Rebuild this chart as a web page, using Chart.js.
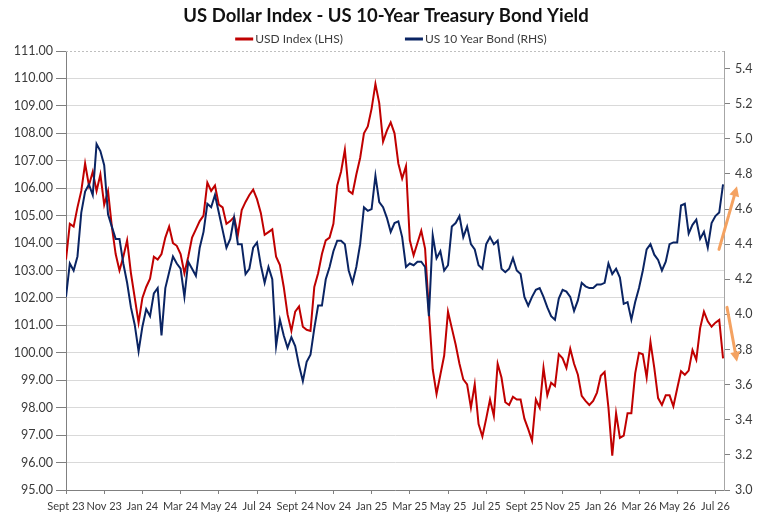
<!DOCTYPE html>
<html><head><meta charset="utf-8">
<script src="https://cdn.jsdelivr.net/npm/chart.js@4.4.1/dist/chart.umd.min.js"></script>
<style>html,body{margin:0;padding:0;background:#fff;}#wrap{width:772px;height:526px;position:relative;}</style>
</head><body><div id="wrap"><canvas id="c"></canvas></div>
<script>
// Two-month tick labels (x axis unit = months since Sept 23)
const monthLabels = ['Sept 23','Nov 23','Jan 24','Mar 24','May 24','Jul 24','Sept 24','Nov 24','Jan 25','Mar 25','May 25','Jul 25','Sept 25','Nov 25','Jan 26','Mar 26','May 26','Jul 26'];
const sampleStepMonths = 0.2;   // spacing between samples, in months
const lastMonth = 34.45;        // end of the time axis, in months

// USD Index (LHS), sampled every 0.2 month
const usdIndex = [
103.4,104.7,104.6,105.3,105.9,106.9,106.1,106.6,105.9,106.5,
105.4,105.9,104.6,103.6,103.0,103.5,104.1,102.9,102.0,101.1,
102.0,102.4,102.7,103.5,103.4,103.6,104.2,104.6,104.0,103.9,
103.6,102.9,103.5,104.2,104.5,104.8,105.0,106.2,105.9,106.1,
105.4,105.3,104.7,104.8,104.95,104.3,105.2,105.5,105.75,105.95,
105.6,105.1,104.3,104.4,104.5,103.5,103.2,102.4,101.4,100.8,
101.5,101.69,100.95,100.84,100.8,102.4,102.9,103.6,104.1,104.2,
104.7,106.1,106.6,107.4,105.9,105.8,106.5,107.1,108.0,108.25,
108.9,109.8,109.1,107.7,108.1,108.4,108.0,106.9,106.35,106.8,
104.1,103.55,104.0,104.45,103.8,101.5,99.4,98.5,99.2,99.9,
101.5,100.9,100.3,99.6,99.03,98.85,98.0,98.85,97.4,96.95,
97.6,98.3,97.7,99.6,99.1,98.2,98.1,98.4,98.3,98.3,
97.6,97.22,96.8,98.3,98.0,99.45,98.45,98.91,98.79,99.95,
99.8,99.45,100.15,99.6,99.2,98.43,98.25,98.1,98.25,98.55,
99.16,99.3,98.0,96.25,97.8,96.9,96.98,97.8,97.8,99.25,
100.0,99.95,99.1,100.4,99.45,98.35,98.1,98.45,98.45,98.05,
98.7,99.33,99.2,99.35,100.1,99.75,100.9,101.5,101.15,100.95,
101.1,101.2,99.8
];

// US 10 Year Bond yield (RHS), sampled every 0.2 month
const us10y = [
4.10,4.29,4.25,4.33,4.58,4.70,4.74,4.68,4.97,4.93,
4.85,4.57,4.50,4.43,4.43,4.29,4.18,4.04,3.94,3.79,
3.93,4.03,3.99,4.12,4.15,3.88,4.15,4.24,4.33,4.29,
4.26,4.10,4.30,4.26,4.22,4.38,4.47,4.63,4.61,4.68,
4.58,4.48,4.38,4.43,4.55,4.40,4.40,4.23,4.26,4.38,
4.41,4.28,4.18,4.27,4.20,3.82,3.97,3.88,3.81,3.87,
3.82,3.71,3.62,3.73,3.77,3.92,4.05,4.05,4.20,4.27,
4.36,4.42,4.42,4.40,4.25,4.18,4.27,4.40,4.61,4.59,
4.60,4.79,4.64,4.61,4.55,4.47,4.52,4.53,4.44,4.27,
4.29,4.28,4.30,4.30,4.27,3.99,4.45,4.32,4.36,4.25,
4.28,4.50,4.52,4.56,4.44,4.50,4.40,4.37,4.28,4.26,
4.40,4.44,4.40,4.42,4.26,4.24,4.26,4.32,4.25,4.23,
4.10,4.05,4.10,4.14,4.15,4.10,4.04,3.99,3.97,4.09,
4.14,4.13,4.10,4.02,4.08,4.18,4.16,4.15,4.15,4.17,
4.17,4.18,4.29,4.23,4.26,4.21,4.06,4.07,3.97,4.07,
4.15,4.25,4.37,4.40,4.34,4.31,4.25,4.30,4.40,4.41,
4.41,4.62,4.63,4.46,4.51,4.54,4.43,4.47,4.38,4.52,
4.56,4.58,4.74
];

// Axis ranges / ticks
const leftAxis = {min: 95, max: 111, step: 1};
const rightAxis = {min: 3.0, max: 5.5, step: 0.2};

// Orange trend arrows (in right-axis values, x offset from plot's right edge)
const arrows = [
  {fromY: 4.37, toY: 4.73, fromDx: -5, toDx: 13},
  {fromY: 4.04, toY: 3.73, fromDx: 3, toDx: 13}
];

const toPoints = arr => arr.map((v, i) => ({x: i * sampleStepMonths, y: v}));
const FONT = 'Lato, "Open Sans", sans-serif';
const TXT = '#3b3b3b';

const decorPlugin = {
  id: 'decor',
  afterDraw(chart) {
    const ctx = chart.ctx, ca = chart.chartArea;
    // dotted top border
    ctx.save();
    ctx.strokeStyle = '#bfbfbf'; ctx.lineWidth = 1; ctx.setLineDash([2, 2]);
    ctx.beginPath(); ctx.moveTo(ca.left, ca.top + 0.5); ctx.lineTo(ca.right, ca.top + 0.5); ctx.stroke();
    ctx.restore();
    // legend
    ctx.save();
    ctx.font = '12px ' + FONT;
    ctx.textBaseline = 'middle';
    const items = chart.data.datasets.map(d => ({text: d.label, color: d.borderColor, w: ctx.measureText(d.label).width}));
    const lineW = 18, gap = 2, sep = 62;
    let total = items.reduce((s, it) => s + lineW + gap + it.w, 0) + sep * (items.length - 1);
    let x = 391 - total / 2;
    const y = 39;
    items.forEach(it => {
      ctx.fillStyle = it.color;
      ctx.fillRect(x, y - 1.5, lineW, 3);
      ctx.fillStyle = TXT;
      ctx.fillText(it.text, x + lineW + gap, y);
      x += lineW + gap + it.w + sep;
    });
    ctx.restore();
    // arrows
    const yR = chart.scales.yR;
    ctx.save();
    ctx.strokeStyle = '#F4A261'; ctx.fillStyle = '#F4A261'; ctx.lineWidth = 3; ctx.lineCap = 'round';
    arrows.forEach(a => {
      const x0 = ca.right + a.fromDx, y0 = yR.getPixelForValue(a.fromY);
      const x1 = ca.right + a.toDx, y1 = yR.getPixelForValue(a.toY);
      const ang = Math.atan2(y1 - y0, x1 - x0);
      const hl = 10, hw = 5;
      const bx = x1 - hl * Math.cos(ang), by = y1 - hl * Math.sin(ang);
      ctx.beginPath(); ctx.moveTo(x0, y0); ctx.lineTo(bx, by); ctx.stroke();
      ctx.beginPath();
      ctx.moveTo(x1, y1);
      ctx.lineTo(bx + hw * Math.sin(ang), by - hw * Math.cos(ang));
      ctx.lineTo(bx - hw * Math.sin(ang), by + hw * Math.cos(ang));
      ctx.closePath(); ctx.fill();
    });
    ctx.restore();
  }
};

new Chart(document.getElementById('c'), {
  type: 'line',
  data: {
    datasets: [
      {label: 'USD Index (LHS)', data: toPoints(usdIndex), borderColor: '#C00000', borderWidth: 2, pointRadius: 0, yAxisID: 'yL', order: 2},
      {label: 'US 10 Year Bond (RHS)', data: toPoints(us10y), borderColor: '#0A2463', borderWidth: 2, pointRadius: 0, yAxisID: 'yR', order: 1}
    ]
  },
  options: {
    responsive: true, maintainAspectRatio: false, animation: false,
    layout: {padding: 0},
    plugins: {
      legend: {display: false},
      tooltip: {enabled: false},
      title: {display: true, text: 'US Dollar Index - US 10-Year Treasury Bond Yield',
        font: {family: FONT, size: 18.5, weight: 'bold'}, color: '#111', padding: {top: 5, bottom: 23.8}}
    },
    scales: {
      x: {
        type: 'linear', min: 0, max: lastMonth,
        grid: {drawOnChartArea: false, tickLength: 4, tickColor: '#808080'},
        border: {color: '#808080'},
        ticks: {stepSize: 2, includeBounds: false, autoSkip: false, maxRotation: 0, minRotation: 0,
          padding: 6, color: TXT, font: {family: FONT, size: 11},
          callback: v => monthLabels[Math.round(v / 2)] ?? ''},
        afterFit: s => { s.height = 36; }
      },
      yL: {
        position: 'left', min: leftAxis.min, max: leftAxis.max,
        grid: {color: c => (c.tick && c.tick.value === leftAxis.max) ? 'rgba(0,0,0,0)' : '#d9d9d9', tickLength: 10, tickColor: '#808080'},
        border: {color: '#808080'},
        ticks: {stepSize: leftAxis.step, color: TXT, padding: 3, font: {family: FONT, size: 12.5}, callback: v => v.toFixed(2)},
        afterFit: s => { s.width = 66; }
      },
      yR: {
        position: 'right', min: rightAxis.min, max: rightAxis.max,
        grid: {drawOnChartArea: false, tickLength: 6, tickColor: '#808080'},
        border: {color: '#a6a6a6'},
        ticks: {stepSize: rightAxis.step, includeBounds: false, color: TXT, padding: 5, font: {family: FONT, size: 12.5}, callback: v => v.toFixed(1)},
        afterFit: s => { s.width = 48; }
      }
    }
  },
  plugins: [decorPlugin]
});
</script>
</body></html>
